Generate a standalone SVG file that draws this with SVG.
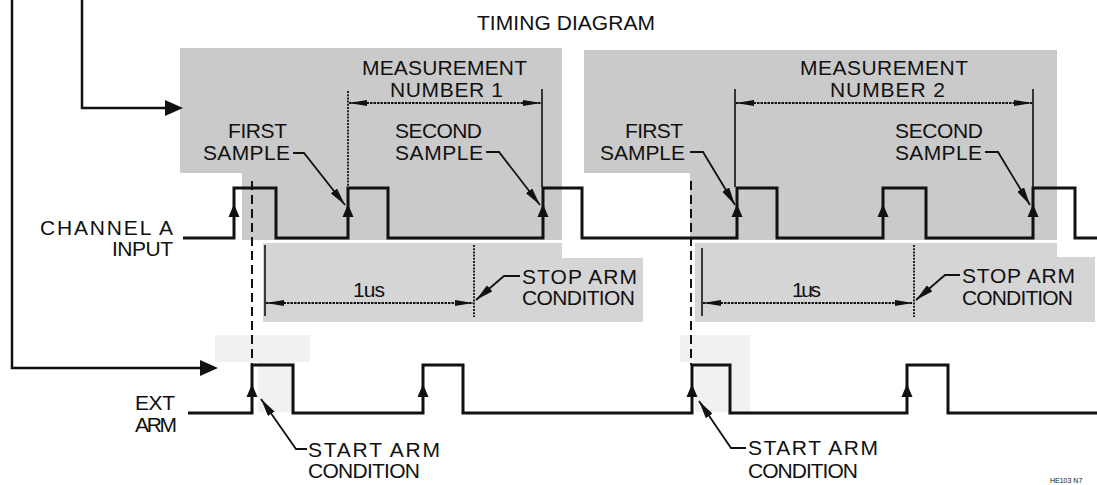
<svg xmlns="http://www.w3.org/2000/svg" xmlns:xlink="http://www.w3.org/1999/xlink" width="1097" height="485" viewBox="0 0 1097 485">
<defs>
<style>
text{font-family:"Liberation Sans",Arial,sans-serif;font-size:21px;fill:#111}
.wave{fill:none;stroke:#111;stroke-width:3;stroke-linejoin:miter}
.feed{fill:none;stroke:#111;stroke-width:2.5}
.dash{fill:none;stroke:#111;stroke-width:2;stroke-dasharray:9 5}
.ext{fill:none;stroke:#111;stroke-width:1.6}
.dot{fill:none;stroke:#111;stroke-width:1.8;stroke-dasharray:2 1.2}
.dim{fill:none;stroke:#111;stroke-width:2;stroke-dasharray:2.5 1;marker-start:url(#dimA);marker-end:url(#dimA)}
.lead{fill:none;stroke:#111;stroke-width:1.8;marker-end:url(#leadA)}
.shade{fill:#cacaca}
.shade2{fill:#d5d5d5}
.faint{fill:#f1f1f1}
</style>
<marker id="dimA" viewBox="0 0 18 7" refX="18" refY="3.5" markerWidth="18" markerHeight="7" markerUnits="userSpaceOnUse" orient="auto-start-reverse">
<path d="M0,0.5 L18,3.5 L0,6.5 Z" fill="#111"/>
</marker>
<marker id="leadA" viewBox="0 0 18 8" refX="18" refY="4" markerWidth="18" markerHeight="8" markerUnits="userSpaceOnUse" orient="auto">
<path d="M0,0 L18,4 L0,8 Z" fill="#111"/>
</marker>
<path id="tri" d="M0,-7 L-5.5,6 L5.5,6 Z" fill="#111"/>
</defs>
<rect width="1097" height="485" fill="#fff"/>

<g id="shading">
<path class="shade" d="M180,48 H562 V240 H242 V173 H180 Z"/>
<path class="shade2" d="M263,243 H562 V258 H643 V322 H263 Z"/>
<path class="shade" d="M584,50 H1057 V240 H690 V173 H584 Z"/>
<path class="shade2" d="M695,243 H1057 V257 H1095 V322 H695 Z"/>
<path class="faint" d="M215,335 H310 V362 H295 V412 H258 V362 H215 Z"/>
<path class="faint" d="M680,335 H750 V412 H695 V362 H680 Z"/>
</g>

<g id="title"><text x="477" y="30" textLength="178">TIMING DIAGRAM</text></g>

<g id="connectors">
<path class="feed" d="M82,0 V108 H168"/>
<path d="M165,100 L183,108 L165,116 Z" fill="#111"/>
<path class="feed" d="M12,0 V368 H203"/>
<path d="M200,360 L218,368 L200,376 Z" fill="#111"/>
<path class="dash" d="M252,181 V365"/>
<path class="dash" d="M691,181 V365"/>
</g>

<g id="channel-a">
<text x="40" y="235" textLength="133">CHANNEL A</text>
<text x="112" y="256" textLength="61">INPUT</text>
<path class="wave" d="M183,238 H234 V188 H276 V238 H348 V188 H388 V238 H543 V188 H582 V238 H737 V188 H777 V238 H883 V188 H926 V238 H1033 V188 H1075 V238 H1097"/>
<use xlink:href="#tri" x="234" y="211"/>
<use xlink:href="#tri" x="348" y="211"/>
<use xlink:href="#tri" x="543" y="211"/>
<use xlink:href="#tri" x="737" y="211"/>
<use xlink:href="#tri" x="883" y="211"/>
<use xlink:href="#tri" x="1033" y="211"/>
</g>

<g id="ext-arm">
<text x="135" y="410" textLength="40">EXT</text>
<text x="135" y="432" textLength="42">ARM</text>
<path class="wave" d="M188,413 H252 V365 H293 V413 H423 V365 H463 V413 H692 V365 H730 V413 H907 V365 H948 V413 H1097"/>
<use xlink:href="#tri" x="252" y="391"/>
<use xlink:href="#tri" x="423" y="391"/>
<use xlink:href="#tri" x="692" y="391"/>
<use xlink:href="#tri" x="907" y="391"/>
</g>

<g id="measurement-1">
<text x="362" y="75" textLength="165">MEASUREMENT</text>
<text x="390" y="97" textLength="113">NUMBER 1</text>
<path class="dot" d="M348,91 V186"/>
<path class="ext" d="M542,89 V187"/>
<path class="dim" d="M349,103 H541"/>
</g>

<g id="measurement-2">
<text x="800" y="75" textLength="168">MEASUREMENT</text>
<text x="830" y="97" textLength="115">NUMBER 2</text>
<path class="ext" d="M735,89 V187"/>
<path class="ext" d="M1033,89 V187"/>
<path class="dim" d="M736,103 H1032"/>
</g>

<g id="first-sample-1">
<text x="228" y="138" textLength="59">FIRST</text>
<text x="203" y="160" textLength="87">SAMPLE</text>
<path class="lead" d="M293,153 H304 L345,205"/>
</g>

<g id="second-sample-1">
<text x="395" y="138" textLength="87">SECOND</text>
<text x="395" y="160" textLength="88">SAMPLE</text>
<path class="lead" d="M486,152 H499 L540,205"/>
</g>

<g id="first-sample-2">
<text x="625" y="138" textLength="58">FIRST</text>
<text x="600" y="160" textLength="85">SAMPLE</text>
<path class="lead" d="M690,152 H703 L735,205"/>
</g>

<g id="second-sample-2">
<text x="895" y="138" textLength="88">SECOND</text>
<text x="895" y="160" textLength="87">SAMPLE</text>
<path class="lead" d="M985,152 H998 L1030,205"/>
</g>

<g id="interval-1">
<path class="ext" d="M265,245 V316"/>
<path class="dot" d="M474,245 V317"/>
<path class="dim" d="M266,303 H473"/>
<text x="353" y="297" textLength="32">1us</text>
</g>

<g id="stop-arm-1">
<text x="522" y="284" textLength="115">STOP ARM</text>
<text x="522" y="305" textLength="113">CONDITION</text>
<path class="lead" d="M520,276 H504 L476,300"/>
</g>

<g id="interval-2">
<path class="ext" d="M702,248 V316"/>
<path class="dot" d="M914,245 V317"/>
<path class="dim" d="M703,303 H913"/>
<text x="792" y="297" textLength="29">1us</text>
</g>

<g id="stop-arm-2">
<text x="962" y="283" textLength="113">STOP ARM</text>
<text x="962" y="305" textLength="111">CONDITION</text>
<path class="lead" d="M960,275 H945 L916,300"/>
</g>

<g id="start-arm-1">
<text x="308" y="457" textLength="132">START ARM</text>
<text x="308" y="478" textLength="112">CONDITION</text>
<path class="lead" d="M307,449 H296 L261,399"/>
</g>

<g id="start-arm-2">
<text x="748" y="455" textLength="130">START ARM</text>
<text x="748" y="478" textLength="110">CONDITION</text>
<path class="lead" d="M746,448 H731 L699,401"/>
</g>

<g id="ref"><text x="1050" y="483" style="font-size:7px">HE103 N7</text></g>
</svg>
